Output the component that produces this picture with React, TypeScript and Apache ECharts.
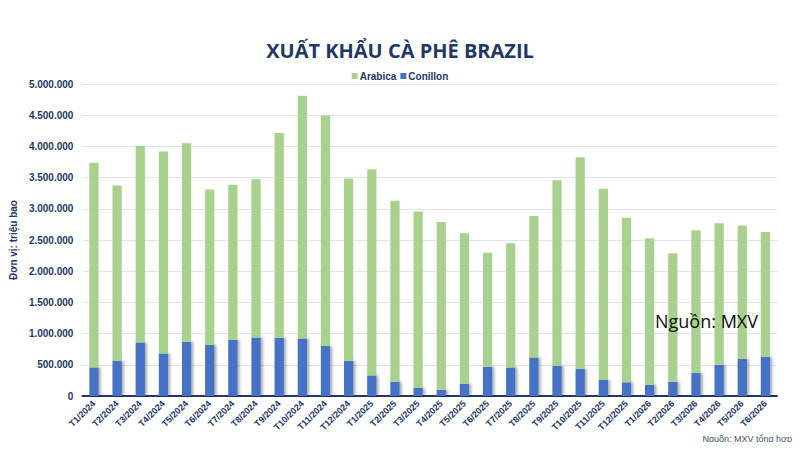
import React, { useEffect, useRef } from "react";
import * as echarts from "echarts";

// Tháng xuất khẩu
const months = [
  "T1/2024", "T2/2024", "T3/2024", "T4/2024", "T5/2024", "T6/2024",
  "T7/2024", "T8/2024", "T9/2024", "T10/2024", "T11/2024", "T12/2024",
  "T1/2025", "T2/2025", "T3/2025", "T4/2025", "T5/2025", "T6/2025",
  "T7/2025", "T8/2025", "T9/2025", "T10/2025", "T11/2025", "T12/2025",
  "T1/2026", "T2/2026", "T3/2026", "T4/2026", "T5/2026", "T6/2026",
];

// Conillon (Robusta), bao
const conillon = [
  458000, 560000, 858000, 682000, 869000, 816000,
  901000, 938000, 933000, 922000, 800000, 565000,
  330000, 229000, 128000, 96000, 197000, 469000,
  458000, 618000, 485000, 437000, 256000, 219000,
  181000, 229000, 368000, 501000, 597000, 629000,
];

// Arabica, bao
const arabica = [
  3279000, 2814000, 3151000, 3236000, 3182000, 2494000,
  2484000, 2537000, 3283000, 3891000, 3694000, 2921000,
  3305000, 2900000, 2830000, 2692000, 2410000, 1828000,
  1989000, 2266000, 2974000, 3390000, 3065000, 2638000,
  2346000, 2058000, 2287000, 2266000, 2137000, 1999000,
];

const NAVY = "#1F3864";
const GREEN = "#A9D18E";
const BLUE = "#4472C4";

const fmt = (v: number) =>
  String(Math.round(v)).replace(/\B(?=(\d{3})+(?!\d))/g, ".");

export default function App() {
  const ref = useRef<HTMLDivElement>(null);

  useEffect(() => {
    if (!ref.current) return;
    const chart = echarts.init(ref.current, undefined, { renderer: "svg" });
    const barShadow = {
      shadowColor: "rgba(0,0,0,0.35)",
      shadowBlur: 3,
      shadowOffsetX: 2,
      shadowOffsetY: 0,
    };
    chart.setOption({
      animation: false,
      backgroundColor: "#ffffff",
      title: {
        text: "XUẤT KHẨU CÀ PHÊ BRAZIL",
        left: "center",
        top: 35,
        textStyle: {
          fontFamily: "Open Sans",
          fontWeight: "bold",
          fontSize: 20,
          color: NAVY,
        },
      },
      legend: {
        data: ["Arabica", "Conillon"],
        top: 66,
        left: "center",
        icon: "rect",
        itemWidth: 6,
        itemHeight: 6,
        itemGap: 4,
        textStyle: {
          fontFamily: "Liberation Sans",
          fontSize: 10,
          fontWeight: "bold",
          color: NAVY,
          padding: [0, 0, 0, -3],
        },
      },
      grid: { left: 77, right: 23, top: 84, bottom: 54, containLabel: false },
      xAxis: {
        type: "category",
        data: months,
        axisLine: { lineStyle: { color: NAVY, width: 2 } },
        axisTick: { show: false },
        axisLabel: {
          rotate: 45,
          interval: 0,
          fontFamily: "Liberation Sans",
          fontSize: 9,
          fontWeight: "bold",
          color: NAVY,
          margin: 6,
        },
      },
      yAxis: {
        type: "value",
        min: 0,
        max: 5000000,
        interval: 500000,
        name: "Đơn vị: triệu bao",
        nameLocation: "middle",
        nameGap: 62,
        nameRotate: 90,
        nameTextStyle: {
          fontFamily: "Liberation Sans",
          fontSize: 10,
          fontWeight: "bold",
          color: NAVY,
        },
        axisLine: { show: false },
        axisTick: { show: false },
        axisLabel: {
          formatter: fmt,
          fontFamily: "Liberation Sans",
          fontSize: 10,
          fontWeight: "bold",
          color: NAVY,
          margin: 9,
        },
        splitLine: { lineStyle: { color: "#E3E3E3", width: 1 } },
      },
      series: [
        {
          name: "Conillon",
          type: "bar",
          stack: "total",
          data: conillon,
          barWidth: "40%",
          itemStyle: { color: BLUE, ...barShadow },
        },
        {
          name: "Arabica",
          type: "bar",
          stack: "total",
          data: arabica,
          barWidth: "40%",
          itemStyle: { color: GREEN },
        },
      ],
      graphic: [
        {
          type: "text",
          left: 655,
          top: 312,
          z: 100,
          style: {
            text: "Nguồn: MXV",
            fontFamily: "Open Sans",
            fontSize: 18,
            fill: "#111111",
          },
        },
        {
          type: "text",
          right: 8,
          top: 434,
          z: 100,
          style: {
            text: "Nguồn: MXV tổng hợp",
            fontFamily: "Liberation Sans",
            fontSize: 9,
            fill: "#44546A",
          },
        },
      ],
    });
    return () => chart.dispose();
  }, []);

  return <div ref={ref} style={{ width: 800, height: 450, margin: -8 }} />;
}
